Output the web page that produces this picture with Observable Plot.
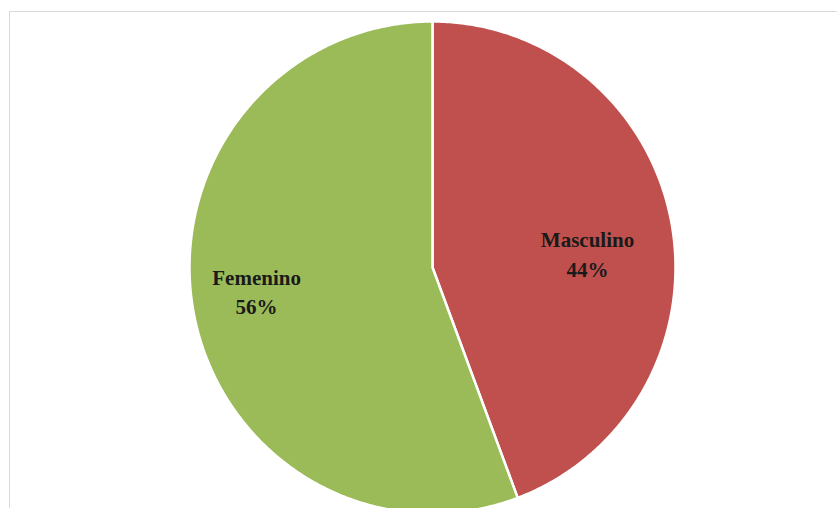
<!DOCTYPE html>
<html>
<head>
<meta charset="utf-8">
<script src="https://cdn.jsdelivr.net/npm/d3@7"></script>
<script src="https://cdn.jsdelivr.net/npm/@observablehq/plot@0.6"></script>
<style>
  html, body { margin: 0; padding: 0; background: #fff; overflow: hidden; }
  #wrap { position: relative; width: 837px; height: 508px; }
  #frame { position: absolute; left: 9px; top: 11px; width: 840px; height: 520px; border: 1px solid #d9d9d9; box-sizing: border-box; pointer-events: none; }
  #chart { position: absolute; left: 0; top: 0; }
</style>
</head>
<body>
<div id="wrap">
  <div id="frame"></div>
  <div id="chart"></div>
</div>
<script>
const categories = ["Masculino", "Femenino"];
const values = [44.3, 55.7];
const percentLabels = ["44%", "56%"];
const colors = ["#C0504D", "#9BBB59"];

// label anchor points in unit-pie coordinates (layout constants)
const labelAnchors = { Masculino: [0.638, 0.061], Femenino: [-0.724, -0.093] };

const total = d3.sum(values);
const slices = [];
let start = 0;
categories.forEach((c, i) => {
  const a0 = start;
  const a1 = start + values[i] / total * 2 * Math.PI;
  start = a1;
  // polygon outline of the slice (geometric sampling of the arc)
  const n = Math.max(2, Math.ceil((a1 - a0) / 0.01));
  slices.push({cat: c, x: 0, y: 0});
  for (let k = 0; k <= n; k++) {
    const a = a0 + (a1 - a0) * k / n;
    slices.push({cat: c, x: Math.sin(a), y: Math.cos(a)});
  }
  slices.push({cat: c, x: 0, y: 0});
});

const labels = categories.map((c, i) => ({
  cat: c,
  x: labelAnchors[c][0],
  y: labelAnchors[c][1],
  text: c + "\n" + percentLabels[i]
}));

const RX = 243, RY = 246, CX = 432, CY = 267;
const W = 837, H = 508;
const marginTop = CY - RY, marginBottom = 0;
const marginLeft = CX - RX, marginRight = W - (CX + RX);
const yMin = -((H - CY) / RY);

const chart = Plot.plot({
  width: W,
  height: H,
  marginLeft,
  marginRight,
  marginTop,
  marginBottom,
  x: {domain: [-1, 1], axis: null},
  y: {domain: [yMin, 1], axis: null},
  color: {domain: categories, range: colors},
  style: {background: "transparent", overflow: "visible"},
  marks: [
    Plot.line(slices, {x: "x", y: "y", z: "cat", fill: "cat", stroke: "#ffffff", strokeWidth: 2.5, strokeLinejoin: "round"}),
    Plot.text(labels, {
      x: "x", y: "y", text: "text",
      fontFamily: "'Liberation Serif', 'Times New Roman', serif",
      fontWeight: "bold", fontSize: 21, lineHeight: 1.4, fill: "#1a1a1a"
    })
  ]
});
document.getElementById("chart").appendChild(chart);
</script>
</body>
</html>
